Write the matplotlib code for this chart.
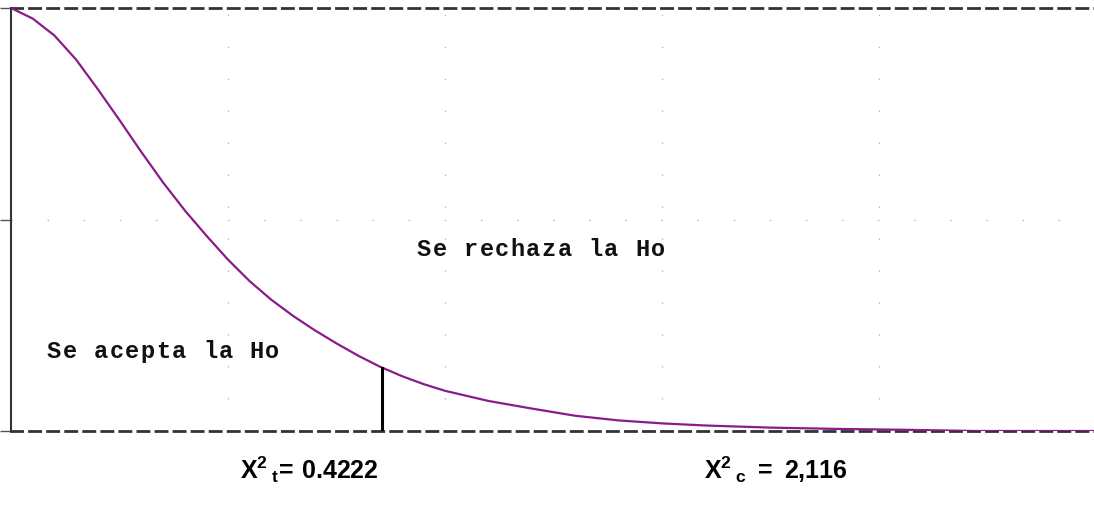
import numpy as np
import matplotlib
matplotlib.use("Agg")
import matplotlib.pyplot as plt
from matplotlib import font_manager

# Curva (x en unidades del eje, y relativa a la altura máxima)
curva_x = [0.0, 0.1, 0.2, 0.3, 0.4, 0.5, 0.6, 0.7, 0.8, 0.9, 1.0, 1.1, 1.2, 1.3,
           1.4, 1.5, 1.6, 1.7, 1.8, 1.9, 2.0, 2.2, 2.4, 2.6, 2.8, 3.0, 3.2, 3.5,
           3.8, 4.1, 4.45, 5.0]
curva_y = [1.000, 0.975, 0.935, 0.878, 0.808, 0.735, 0.660, 0.588, 0.522, 0.462,
           0.405, 0.354, 0.310, 0.272, 0.238, 0.207, 0.178, 0.152, 0.130, 0.111,
           0.095, 0.071, 0.053, 0.036, 0.025, 0.018, 0.013, 0.008, 0.005, 0.003,
           0.0, 0.0]

x_critico = 1.71
texto_rechazo = "Se rechaza la Ho"
texto_acepta = "Se acepta la Ho"
valor_tabla = "0.4222"
valor_calc = "2,116"

# Fuente estrecha para las etiquetas de abajo (si existe)
try:
    font_manager.findfont("Liberation Sans Narrow", fallback_to_default=False)
    fuente_narrow = "Liberation Sans Narrow"
except Exception:
    fuente_narrow = "Liberation Sans"

plt.rcParams["mathtext.fontset"] = "custom"
plt.rcParams["mathtext.rm"] = fuente_narrow + ":bold"
plt.rcParams["mathtext.bf"] = fuente_narrow + ":bold"
plt.rcParams["mathtext.it"] = fuente_narrow + ":bold"

fig = plt.figure(figsize=(10.94, 5.06), dpi=100)
ax = fig.add_axes([11 / 1094, 74 / 506, 1 - 11 / 1094 + 0.002, (432 - 9) / 506])

# Rejilla punteada tenue
for gx in [1, 2, 3, 4]:
    ax.axvline(gx, color="#b8b8b8", lw=1, ls=(0, (1, 22)), zorder=0)
ax.axhline(0.5, color="#b8b8b8", lw=1, ls=(0, (1, 25)), zorder=0)

# Curva
ax.plot(curva_x, curva_y, color="#8a1c8a", lw=1.6, zorder=3)

# Linea del valor critico
altura = np.interp(x_critico, curva_x, curva_y)
ax.plot([x_critico, x_critico], [0, altura], color="black", lw=2.2, zorder=4)


# Texto monoespaciado con letras separadas (como en la imagen)
def texto_espaciado(x_ini_px, y_px, texto, paso_px=15.6):
    for i, letra in enumerate(texto):
        fig.text((x_ini_px + i * paso_px) / 1094, 1 - y_px / 506, letra,
                 family="Liberation Mono", weight="bold", fontsize=17,
                 ha="left", va="center", color="#111111")


texto_espaciado(417, 250, texto_rechazo)
texto_espaciado(47, 352, texto_acepta)

ax.set_xlim(0, 5)
ax.set_ylim(0, 1)

# Bordes
ax.spines["right"].set_visible(False)
ax.spines["left"].set_color("#333333")
ax.spines["left"].set_linewidth(1.5)
for lado in ["top", "bottom"]:
    ax.spines[lado].set_color("#333333")
    ax.spines[lado].set_linewidth(2)
    ax.spines[lado].set_linestyle((0, (4, 2.5)))

ax.set_xticks([])
ax.set_yticks([0, 0.5, 1])
ax.set_yticklabels([])
ax.tick_params(axis="y", length=8, width=1, color="#555555", direction="out")

# Etiquetas inferiores
fig.text(309 / 1094, 1 - 470 / 506, r"$\mathbf{X^{2}\,{}_{t}\!=\!\ " + valor_tabla + "}$",
         fontsize=18, ha="center", va="center", color="black")
fig.text(776 / 1094, 1 - 470 / 506, r"$\mathbf{X^{2}\,{}_{c}\ =\ " + valor_calc.replace(",", "{,}") + "}$",
         fontsize=18, ha="center", va="center", color="black")

plt.savefig("out.png", dpi=100)
